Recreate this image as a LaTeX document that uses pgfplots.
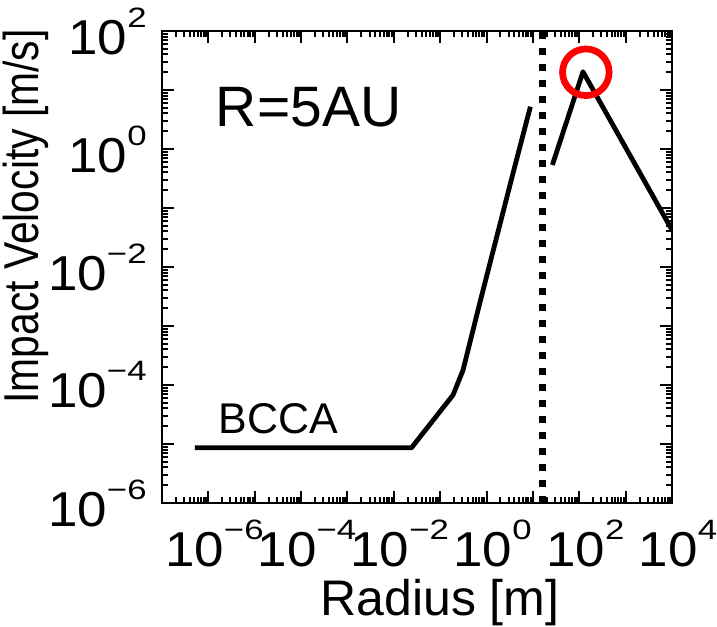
\documentclass[border=0pt]{standalone}
\usepackage{pgfplots}
\pgfplotsset{compat=1.18}
\usepackage{fontspec}
\setmainfont{Liberation Sans}
\usepackage{graphicx}

% tick label: 10 with a raised exponent, set in the text font
\newcommand{\tk}[1]{\scalebox{1.08}[1]{10\raisebox{13.5bp}{\scalebox{1.15}[1]{\fontsize{14bp}{14bp}\selectfont #1}}}}

\begin{document}
\begin{tikzpicture}
\begin{axis}[
  xmode=log, ymode=log,
  scale only axis, width=255bp, height=236bp,
  xmin=1e-7, xmax=1e4, ymin=1e-6, ymax=1e2,
  xtick={1e-7,1e-6,1e-5,1e-4,1e-3,1e-2,1e-1,1,10,100,1000,10000},
  xticklabels={,\tk{−6},,\tk{−4},,\tk{−2},,\tk{0},,\tk{2},,\tk{4}},
  ytick={1e-6,1e-5,1e-4,1e-3,1e-2,1e-1,1,10,100},
  yticklabels={\tk{−6},,\tk{−4},,\tk{−2},,\tk{0},,\tk{2}},
  extra x ticks={2e-7,3e-7,4e-7,5e-7,6e-7,7e-7,8e-7,9e-7,
    2e-6,3e-6,4e-6,5e-6,6e-6,7e-6,8e-6,9e-6,
    2e-5,3e-5,4e-5,5e-5,6e-5,7e-5,8e-5,9e-5,
    2e-4,3e-4,4e-4,5e-4,6e-4,7e-4,8e-4,9e-4,
    2e-3,3e-3,4e-3,5e-3,6e-3,7e-3,8e-3,9e-3,
    2e-2,3e-2,4e-2,5e-2,6e-2,7e-2,8e-2,9e-2,
    0.2,0.3,0.4,0.5,0.6,0.7,0.8,0.9,
    2,3,4,5,6,7,8,9,
    20,30,40,50,60,70,80,90,
    200,300,400,500,600,700,800,900,
    2000,3000,4000,5000,6000,7000,8000,9000},
  extra y ticks={2e-6,3e-6,4e-6,5e-6,6e-6,7e-6,8e-6,9e-6,
    2e-5,3e-5,4e-5,5e-5,6e-5,7e-5,8e-5,9e-5,
    2e-4,3e-4,4e-4,5e-4,6e-4,7e-4,8e-4,9e-4,
    2e-3,3e-3,4e-3,5e-3,6e-3,7e-3,8e-3,9e-3,
    2e-2,3e-2,4e-2,5e-2,6e-2,7e-2,8e-2,9e-2,
    0.2,0.3,0.4,0.5,0.6,0.7,0.8,0.9,
    2,3,4,5,6,7,8,9,
    20,30,40,50,60,70,80,90},
  extra x tick labels={},
  extra y tick labels={},
  extra tick style={major tick length=2.5bp, tick style={line width=0.7bp}},
  ticklabel style={font=\fontsize{24.5bp}{24.5bp}\selectfont, inner sep=0pt},
  xticklabel style={yshift=-8.5bp, xshift=3bp},
  yticklabel style={xshift=-7.5bp},
  major tick length=6bp,
  tick style={black, line width=1bp},
  axis line style={line width=1.3bp},
  xlabel={Radius [m]},
  xlabel style={at={(axis description cs:0.545,-0.238)}, anchor=base, inner sep=0pt,
    font=\fontsize{25bp}{25bp}\selectfont},
  ylabel={\scalebox{1}[1.2]{Impact Velocity [m/s]}},
  ylabel style={at={(axis description cs:-0.2431,0.607)}, anchor=base, inner sep=0pt,
    font=\fontsize{20.4bp}{20.4bp}\selectfont},
]
% BCCA branch
\addplot[black, line width=2.4bp, line join=round] coordinates {
  (5.14e-7,8.65e-6) (0.0241,8.65e-6) (0.1897,6.78e-5) (0.3119,1.795e-4)
  (0.713,2.43e-3) (3.72,0.387) (8.83,5.21)};
% compact branch
\addplot[black, line width=2.4bp, line join=round] coordinates {
  (26.3,0.536) (120.2,20.4) (10000,0.0424)};
% dotted divider
\addplot[black, line width=3.5bp, dash pattern=on 3.5bp off 4.5bp] coordinates {
  (16.3,1e-6) (16.3,1e2)};
% red circle on the peak
\addplot[only marks, mark=o, mark size=11.7pt, mark options={draw=red, line width=3.35bp}] coordinates {
  (138.7,20.0)};

\node[anchor=base west, inner sep=0pt, font=\fontsize{28.5bp}{28.5bp}\selectfont]
  at (axis description cs:0.105,0.7987) {R=5AU};
\node[anchor=base west, inner sep=0pt, font=\fontsize{21.5bp}{21.5bp}\selectfont]
  at (axis description cs:0.1104,0.1483) {BCCA};

\coordinate (sw) at (axis description cs:0,0);
\coordinate (ne) at (axis description cs:1,1);
\end{axis}
\pgfresetboundingbox
\path[use as bounding box] ([shift={(-81bp,-62bp)}]sw) rectangle ([shift={(22.5bp,15.5bp)}]ne);
\end{tikzpicture}
\end{document}
